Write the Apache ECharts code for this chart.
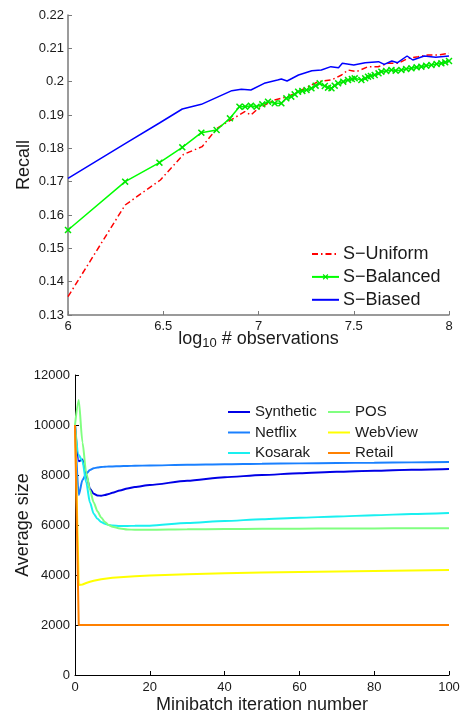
<!DOCTYPE html>
<html><head><meta charset="utf-8">
<script src="https://cdn.jsdelivr.net/npm/echarts@6/dist/echarts.min.js"></script>
<style>html,body{margin:0;padding:0;background:#fff}#c{width:462px;height:714px}</style>
</head><body><div id="c"></div>
<script>
// ---- Top chart data (log10 # observations vs Recall) ----
const uniformX = [6, 6.3, 6.485, 6.607, 6.704, 6.782, 6.858, 6.928, 6.96, 6.989, 7.033, 7.085, 7.155, 7.208, 7.261, 7.313, 7.383, 7.436, 7.47, 7.514, 7.575, 7.628, 7.68, 7.733, 7.785, 7.838, 7.89, 7.943, 8.0];
const uniformY = [0.1355, 0.163, 0.1705, 0.1782, 0.1805, 0.186, 0.1886, 0.191, 0.19, 0.1915, 0.193, 0.1945, 0.1955, 0.197, 0.1985, 0.2, 0.2005, 0.202, 0.2035, 0.203, 0.2045, 0.2045, 0.2055, 0.2055, 0.207, 0.2075, 0.208, 0.208, 0.2085];
const balancedX = [6, 6.3, 6.48, 6.6, 6.7, 6.78, 6.85, 6.9, 6.93, 6.96, 6.99, 7.02, 7.05, 7.085, 7.12, 7.146, 7.172, 7.19, 7.208, 7.23, 7.252, 7.278, 7.3, 7.321, 7.348, 7.365, 7.383, 7.4, 7.418, 7.445, 7.47, 7.49, 7.505, 7.54, 7.56, 7.575, 7.59, 7.61, 7.63, 7.645, 7.67, 7.698, 7.72, 7.75, 7.775, 7.803, 7.83, 7.855, 7.88, 7.908, 7.935, 7.96, 7.98, 8.0];
const balancedY = [0.1555, 0.170, 0.1757, 0.1803, 0.1847, 0.1855, 0.189, 0.1925, 0.1925, 0.1928, 0.1925, 0.1932, 0.194, 0.1935, 0.1935, 0.195, 0.1955, 0.1962, 0.197, 0.1972, 0.1975, 0.198, 0.1988, 0.1995, 0.1987, 0.1982, 0.198, 0.1988, 0.1995, 0.2, 0.2005, 0.2008, 0.201, 0.2005, 0.201, 0.2015, 0.2017, 0.202, 0.2025, 0.203, 0.2032, 0.2035, 0.2033, 0.2035, 0.2038, 0.204, 0.2043, 0.2045, 0.2048, 0.205, 0.2053, 0.2055, 0.2058, 0.2062];
const biasedX = [6, 6.3, 6.48, 6.6, 6.7, 6.86, 6.91, 6.96, 7.03, 7.1, 7.12, 7.15, 7.21, 7.28, 7.33, 7.38, 7.42, 7.44, 7.5, 7.56, 7.63, 7.66, 7.7, 7.73, 7.78, 7.81, 7.87, 7.93, 8.0];
const biasedY = [0.171, 0.1814, 0.1876, 0.1918, 0.1932, 0.1973, 0.1977, 0.1975, 0.1995, 0.2005, 0.2008, 0.2002, 0.202, 0.2033, 0.2035, 0.2045, 0.2042, 0.2055, 0.205, 0.2057, 0.206, 0.2052, 0.2062, 0.2057, 0.2077, 0.2065, 0.2077, 0.2073, 0.2077];

// ---- Bottom chart data (Minibatch iteration vs Average size) ----
const iterations = [0, 1, 2, 3, 4, 5, 6, 7, 8, 9, 10, 12, 14, 16, 20, 30, 40, 50, 60, 70, 80, 90, 100];
const synthetic = [10000, 8550, 8620, 8000, 7450, 7250, 7180, 7170, 7200, 7240, 7290, 7380, 7460, 7520, 7600, 7770, 7910, 8000, 8070, 8130, 8170, 8210, 8240];
const netflix   = [10000, 7200, 7800, 8050, 8200, 8270, 8300, 8320, 8330, 8340, 8345, 8355, 8360, 8370, 8380, 8410, 8430, 8450, 8465, 8480, 8490, 8505, 8520];
const kosarak   = [10000, 8800, 8550, 7700, 6900, 6450, 6250, 6120, 6050, 6000, 5980, 5960, 5960, 5970, 5975, 6080, 6160, 6230, 6290, 6340, 6390, 6440, 6480];
const pos       = [10000, 11000, 9300, 8100, 7400, 6900, 6550, 6300, 6120, 6000, 5930, 5860, 5820, 5810, 5810, 5830, 5840, 5850, 5855, 5860, 5865, 5870, 5875];
const webview   = [10000, 3600, 3620, 3680, 3730, 3770, 3800, 3830, 3850, 3870, 3890, 3910, 3930, 3950, 3980, 4030, 4070, 4100, 4120, 4140, 4160, 4180, 4200];
const retail    = [10000, 2000, 2000, 2000, 2000, 2000, 2000, 2000, 2000, 2000, 2000, 2000, 2000, 2000, 2000, 2000, 2000, 2000, 2000, 2000, 2000, 2000, 2000];

const zip = (xs, ys) => xs.map((x, i) => [x, ys[i]]);
const FONT = 'Liberation Sans, Arial, Helvetica, sans-serif';
const xMark = 'path://M0,1.5L1.5,0L5,3.5L8.5,0L10,1.5L6.5,5L10,8.5L8.5,10L5,6.5L1.5,10L0,8.5L3.5,5Z';

const chart = echarts.init(document.getElementById('c'), null, {renderer: 'canvas'});
const axisCommonTop = {
  nameMoveOverlap: false,
  axisLine: {show: true, lineStyle: {color: '#7a7a7a', width: 1.5}},
  axisTick: {show: true, inside: true, length: 4, lineStyle: {color: '#7a7a7a', width: 1}},
  splitLine: {show: false},
  axisLabel: {color: '#1a1a1a', fontSize: 13, fontFamily: FONT},
  nameTextStyle: {color: '#1a1a1a', fontSize: 18, fontFamily: FONT}
};
const axisCommonBot = {
  nameMoveOverlap: false,
  axisLine: {show: true, lineStyle: {color: '#000', width: 1}},
  axisTick: {show: true, inside: true, length: 4, lineStyle: {color: '#000', width: 1}},
  splitLine: {show: false},
  axisLabel: {color: '#1a1a1a', fontSize: 13, fontFamily: FONT},
  nameTextStyle: {color: '#1a1a1a', fontSize: 18, fontFamily: FONT}
};

const botColors = {Synthetic: '#0000e6', Netflix: '#1a80ff', Kosarak: '#19f0f0', POS: '#80ff80', WebView: '#ffff00', Retail: '#ff8000'};
const botSeries = [['Synthetic', synthetic], ['Netflix', netflix], ['Kosarak', kosarak], ['POS', pos], ['WebView', webview], ['Retail', retail]].map(([n, v]) => ({
  name: n, type: 'line', xAxisIndex: 1, yAxisIndex: 1, data: zip(iterations, v),
  showSymbol: false, symbol: 'none', smooth: (n === 'Retail' || n === 'WebView') ? false : 0.25, smoothMonotone: 'x', animation: false,
  lineStyle: {color: botColors[n], width: 2}, itemStyle: {color: botColors[n]}
}));
const noSym = (name) => ({name: name, itemStyle: {opacity: 0}});

chart.setOption({
  animation: false,
  textStyle: {fontFamily: FONT},
  grid: [
    {left: 68, right: 13, top: 15, height: 300, containLabel: false, outerBoundsMode: 'none'},
    {left: 75, right: 13, top: 375, height: 300, containLabel: false, outerBoundsMode: 'none'}
  ],
  xAxis: [
    Object.assign({}, axisCommonTop, {
      type: 'value', gridIndex: 0, min: 6, max: 8, interval: 0.5,
      name: '{n|log}{sub|10}{n| # observations}', nameLocation: 'middle', nameGap: 15,
      nameTextStyle: {color: '#1a1a1a', fontFamily: FONT, rich: {
        n: {fontSize: 18, fontFamily: FONT, color: '#1a1a1a', verticalAlign: 'top', lineHeight: 20},
        sub: {fontSize: 13, fontFamily: FONT, color: '#1a1a1a', verticalAlign: 'bottom', lineHeight: 14, padding: [12, 0, 0, 0]}
      }},
      axisLabel: Object.assign({}, axisCommonTop.axisLabel, {margin: 5})
    }),
    Object.assign({}, axisCommonBot, {
      type: 'value', gridIndex: 1, min: 0, max: 100, interval: 20,
      name: 'Minibatch iteration number', nameLocation: 'middle', nameGap: 21,
      axisLabel: Object.assign({}, axisCommonBot.axisLabel, {margin: 6})
    })
  ],
  yAxis: [
    Object.assign({}, axisCommonTop, {
      type: 'value', gridIndex: 0, min: 0.13, max: 0.22, interval: 0.01,
      name: 'Recall', nameLocation: 'middle', nameGap: 35,
      axisLabel: Object.assign({}, axisCommonTop.axisLabel, {margin: 4})
    }),
    Object.assign({}, axisCommonBot, {
      type: 'value', gridIndex: 1, min: 0, max: 12000, interval: 2000,
      name: 'Average size', nameLocation: 'middle', nameGap: 43,
      axisLabel: Object.assign({}, axisCommonBot.axisLabel, {margin: 5, formatter: (v) => String(v)})
    })
  ],
  legend: [
    {data: [noSym('S\u2212Uniform'), {name: 'S\u2212Balanced'}, noSym('S\u2212Biased')], orient: 'vertical', left: 311, top: 245,
     itemWidth: 27, itemHeight: 7, itemGap: 4.9, padding: 0,
     textStyle: {fontSize: 18, color: '#1a1a1a', fontFamily: FONT, padding: [0, 0, 0, -1]}},
    {data: [noSym('Synthetic'), noSym('Netflix'), noSym('Kosarak')], orient: 'vertical', left: 227, top: 404.5,
     itemWidth: 22, itemHeight: 14, itemGap: 5.5, padding: 0,
     textStyle: {fontSize: 15, color: '#1a1a1a', fontFamily: FONT}},
    {data: [noSym('POS'), noSym('WebView'), noSym('Retail')], orient: 'vertical', left: 327, top: 404.5,
     itemWidth: 22, itemHeight: 14, itemGap: 5.5, padding: 0,
     textStyle: {fontSize: 15, color: '#1a1a1a', fontFamily: FONT}}
  ],
  series: [
    {name: 'S\u2212Uniform', type: 'line', xAxisIndex: 0, yAxisIndex: 0, data: zip(uniformX, uniformY),
     showSymbol: false, symbol: 'none', lineStyle: {color: '#ff0000', width: 1.5, type: [6, 3, 1.5, 3]}, itemStyle: {color: '#ff0000'}},
    {name: 'S\u2212Balanced', type: 'line', xAxisIndex: 0, yAxisIndex: 0, data: zip(balancedX, balancedY),
     symbol: xMark, symbolSize: 7, showAllSymbol: true, lineStyle: {color: '#00ff00', width: 1.5}, itemStyle: {color: '#00e600'}},
    {name: 'S\u2212Biased', type: 'line', xAxisIndex: 0, yAxisIndex: 0, data: zip(biasedX, biasedY),
     showSymbol: false, symbol: 'none', lineStyle: {color: '#0000ff', width: 1.5}, itemStyle: {color: '#0000ff'}}
  ].concat(botSeries)
});
</script></body></html>
